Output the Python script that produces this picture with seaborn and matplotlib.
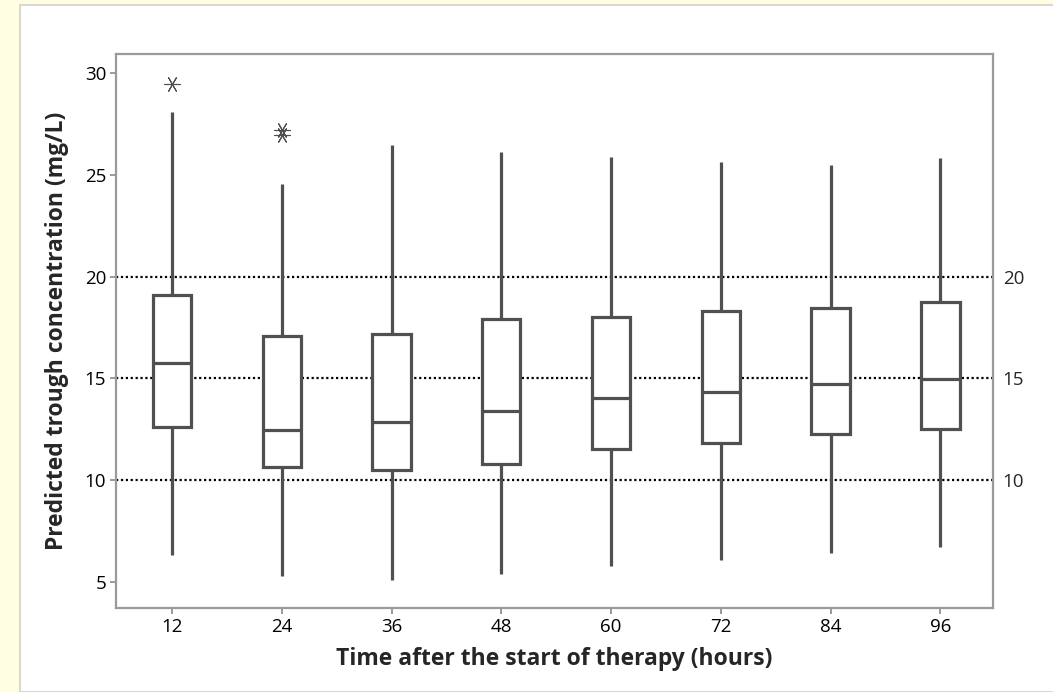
import numpy as np
import pandas as pd
import matplotlib.pyplot as plt
import seaborn as sns
from matplotlib.patches import Rectangle

# Box summaries (mg/L)
times = ["12", "24", "36", "48", "60", "72", "84", "96"]
whisker_low = [6.3, 5.3, 5.1, 5.4, 5.8, 6.1, 6.4, 6.7]
q1 = [12.6, 10.65, 10.5, 10.8, 11.55, 11.8, 12.25, 12.5]
median = [15.75, 12.45, 12.85, 13.4, 14.05, 14.35, 14.7, 14.95]
q3 = [19.1, 17.1, 17.2, 17.9, 18.0, 18.3, 18.45, 18.75]
whisker_high = [28.1, 24.55, 26.45, 26.1, 25.85, 25.65, 25.5, 25.8]
outlier_times = ["12", "24", "24"]
outlier_values = [29.45, 27.2, 26.95]
ref_levels = [10, 15, 20]

edge = "#505050"

# five points per group reproduce the box exactly
rows = []
for i, t in enumerate(times):
    for v in (whisker_low[i], q1[i], median[i], q3[i], whisker_high[i]):
        rows.append({"time": t, "conc": v})
box_df = pd.DataFrame(rows)
out_df = pd.DataFrame({"time": outlier_times, "conc": outlier_values})

sns.set_style("white")
plt.rcParams["font.family"] = ["Open Sans", "DejaVu Sans"]

fig = plt.figure(figsize=(10.53, 6.92), dpi=100, facecolor="#FFFDE2")
fig.patches.append(Rectangle((20 / 1053, 0), 1, 1 - 5 / 692, transform=fig.transFigure,
                             facecolor="white", edgecolor="#D0D0D0", linewidth=1.2, zorder=-5))
ax = fig.add_axes([116 / 1053, 1 - 608 / 692, (993 - 116) / 1053, (608 - 54) / 692])
ax.set_facecolor("white")

for lvl in ref_levels:
    ax.axhline(lvl, color="black", linestyle=(0, (1, 1.2)), linewidth=1.6, zorder=0.5)

sns.boxplot(data=box_df, x="time", y="conc", order=times, width=0.35, whis=np.inf,
            color="white", linecolor=edge, linewidth=2.3, showcaps=False,
            showfliers=False, ax=ax)
sns.stripplot(data=out_df, x="time", y="conc", order=times, jitter=False,
              marker=(6, 2, 90), color=edge, linewidth=0.8, size=11, ax=ax)

ax.set_xlim(-0.51, 7.48)
ax.set_ylim(3.72, 30.93)
ax.set_yticks([5, 10, 15, 20, 25, 30])
for side in ["left", "right", "top", "bottom"]:
    ax.spines[side].set_visible(True)
    ax.spines[side].set_color("#9A9A9A")
    ax.spines[side].set_linewidth(1.6)
ax.tick_params(axis="both", which="major", direction="out", length=4, width=1.4,
               color="#9A9A9A", labelsize=13.5, labelcolor="black", pad=3)
ax.tick_params(left=True, bottom=True)
ax.set_xlabel("Time after the start of therapy (hours)", fontsize=16.5,
              fontweight="bold", labelpad=8)
ax.set_ylabel("Predicted trough concentration (mg/L)", fontsize=16.5,
              fontweight="bold", labelpad=11)

ax2 = ax.twinx()
ax2.set_ylim(ax.get_ylim())
ax2.set_yticks(ref_levels)
ax2.tick_params(axis="y", length=0, labelsize=13.5, pad=7)
for side in ax2.spines:
    ax2.spines[side].set_visible(False)

fig.savefig("out.png", dpi=100, facecolor=fig.get_facecolor())
